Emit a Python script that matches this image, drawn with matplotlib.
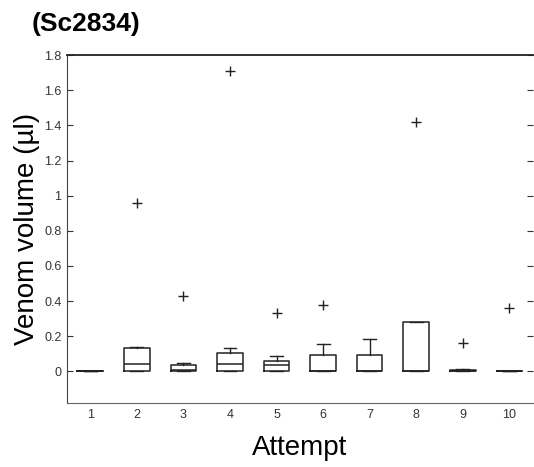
import numpy as np
import matplotlib
matplotlib.use("Agg")
import matplotlib.pyplot as plt

plt.rcParams["font.family"] = ["Liberation Sans", "DejaVu Sans"]

# Box statistics, one entry per attempt
attempts = [1, 2, 3, 4, 5, 6, 7, 8, 9, 10]
q1 = [0.0, 0.0, 0.0, 0.0, 0.005, 0.0, 0.0, 0.0, 0.0, 0.0]
medians = [0.0, 0.044, 0.01, 0.044, 0.034, 0.0, 0.0, 0.0, 0.005, 0.0]
q3 = [0.0, 0.133, 0.038, 0.106, 0.061, 0.093, 0.095, 0.283, 0.01, 0.0]
whisk_lo = [0.0, 0.0, 0.0, 0.0, 0.0, 0.0, 0.0, 0.0, 0.0, 0.0]
whisk_hi = [0.0, 0.14, 0.05, 0.133, 0.085, 0.158, 0.186, 0.283, 0.012, 0.0]
outliers = [[], [0.96], [0.43], [1.71], [0.33], [0.38], [], [1.42], [0.16], [0.36]]

stats = []
for i in range(len(attempts)):
    stats.append({
        "q1": q1[i], "med": medians[i], "q3": q3[i],
        "whislo": whisk_lo[i], "whishi": whisk_hi[i],
        "fliers": outliers[i], "label": str(attempts[i]),
    })

fig = plt.figure(figsize=(5.34, 4.67), dpi=100)
ax = fig.add_axes([0.1255, 0.137, 0.872, 0.745])

ax.bxp(
    stats, positions=attempts, widths=0.55, showcaps=True,
    boxprops=dict(color="#222222", linewidth=1.1),
    medianprops=dict(color="#222222", linewidth=1.1),
    whiskerprops=dict(color="#222222", linewidth=1.0, linestyle="-"),
    capprops=dict(color="#222222", linewidth=1.0),
    flierprops=dict(marker="+", markeredgecolor="#222222", markersize=7,
                    markeredgewidth=1.0),
)

ax.set_xlim(0.5, 10.5)
ax.set_ylim(-0.18, 1.8)
yticks = np.arange(0, 1.81, 0.2)
ax.set_yticks(yticks)
ax.set_yticklabels(["%g" % round(v, 1) for v in yticks])
ax.set_xticks(attempts)
ax.set_xticklabels([str(a) for a in attempts])

ax.tick_params(axis="both", direction="in", labelsize=9, labelcolor="#333333",
               length=4, color="#333333")
ax.tick_params(axis="y", right=True, pad=4)
ax.tick_params(axis="x", bottom=False, pad=4)
ax.spines["right"].set_visible(False)
ax.spines["left"].set_color("#444444")
ax.spines["bottom"].set_color("#666666")
ax.spines["top"].set_color("#222222")
ax.spines["top"].set_linewidth(1.3)

ax.set_xlabel("Attempt", fontsize=20)
ax.set_ylabel("Venom volume (\u00b5l)", fontsize=20)
ax.xaxis.set_label_coords(0.5, -0.093)
ax.yaxis.set_label_coords(-0.058, 0.5)

fig.text(0.06, 0.949, "(Sc2834)", fontsize=19, fontweight="bold",
         ha="left", va="center")

fig.savefig("out.png", dpi=100, facecolor="white")
